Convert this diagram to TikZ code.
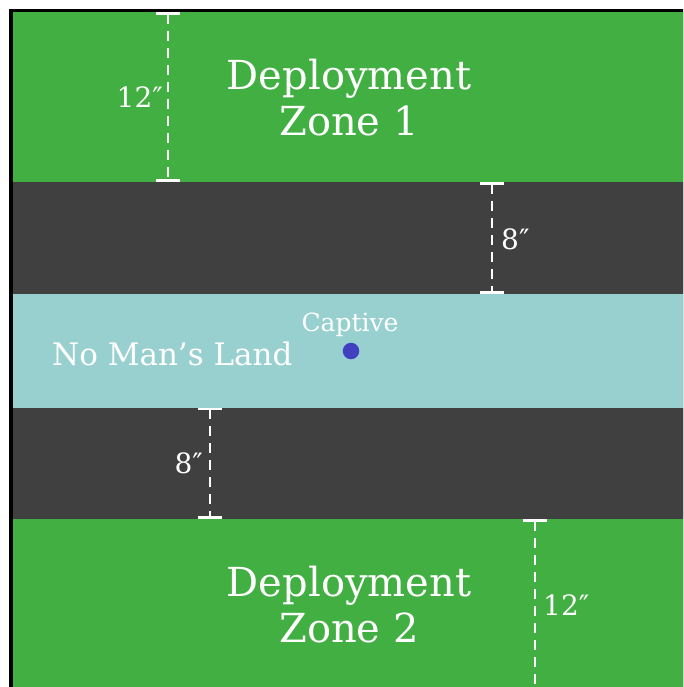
\documentclass[tikz,border=0pt]{standalone}
\usepackage{fontspec}
\setmainfont{DejaVu Serif}
\usetikzlibrary{arrows.meta}

\definecolor{zonegreen}{RGB}{65,175,65}
\definecolor{gapgrey}{RGB}{64,64,64}
\definecolor{landteal}{RGB}{152,208,207}
\definecolor{captiveblue}{RGB}{64,64,192}

\tikzset{
  dimline/.style={white, line width=2.6pt, dash pattern=on 10pt off 7pt},
  dimtick/.tip={Bar[width=24pt,line width=2.6pt]},
  lbl/.style={text=white, inner sep=0pt}
}

\begin{document}
\begin{tikzpicture}[x=1pt,y=-1pt]
  \useasboundingbox (0,0) rectangle (683,687);
  \clip (0,0) rectangle (683,687);

  % board and bands
  \fill[black] (9,9) rectangle (700,700);
  \fill[zonegreen] (12.5,12) rectangle (700,182);
  \fill[gapgrey] (12.5,182) rectangle (700,294);
  \fill[landteal] (12.5,294) rectangle (700,407.5);
  \fill[gapgrey] (12.5,407.5) rectangle (700,519);
  \fill[zonegreen] (12.5,519) rectangle (700,700);

  \begin{scope}[every node/.style={lbl}]
    % Zone labels
    \node[align=center, font=\fontsize{40}{46}\selectfont] (zone1) at (349,98) {Deployment\\Zone 1};
    \node[align=center, font=\fontsize{40}{46}\selectfont] (zone2) at (349,605) {Deployment\\Zone 2};
    \node[anchor=base west, font=\fontsize{31}{36}\selectfont] (nomans) at (52,365) {No Man’s Land};

    % Captive
    \node[anchor=base, font=\fontsize{25}{30}\selectfont] (captive_lbl) at (350,331) {Captive};
    \node[circle, fill=captiveblue, minimum size=16.5pt] (captive) at (351,351) {};

    % Distances
    \node[anchor=base east, font=\fontsize{28}{32}\selectfont] (dist_dz1) at (163,108) {12″};
    \node[anchor=base west, font=\fontsize{28}{32}\selectfont] (dist_gap1) at (501,249) {8″};
    \node[anchor=base east, font=\fontsize{28}{32}\selectfont] (dist_gap2) at (203,473) {8″};
    \node[anchor=base west, font=\fontsize{28}{32}\selectfont] (dist_dz2) at (543,615) {12″};
  \end{scope}

  \coordinate (dz1_top) at (168,12);
  \coordinate (dz1_bot) at (168,182);
  \coordinate (gap1_top) at (492,182);
  \coordinate (gap1_bot) at (492,294);
  \coordinate (gap2_top) at (210,407.5);
  \coordinate (gap2_bot) at (210,519);
  \coordinate (dz2_top) at (535,519);
  \coordinate (dz2_bot) at (535,700);

  \draw[dimline, dimtick-dimtick] (dz1_top) -- (dz1_bot);
  \draw[dimline, dimtick-dimtick] (gap1_top) -- (gap1_bot);
  \draw[dimline, dimtick-dimtick] (gap2_top) -- (gap2_bot);
  \draw[dimline, dimtick-] (dz2_top) -- (dz2_bot);
\end{tikzpicture}
\end{document}
